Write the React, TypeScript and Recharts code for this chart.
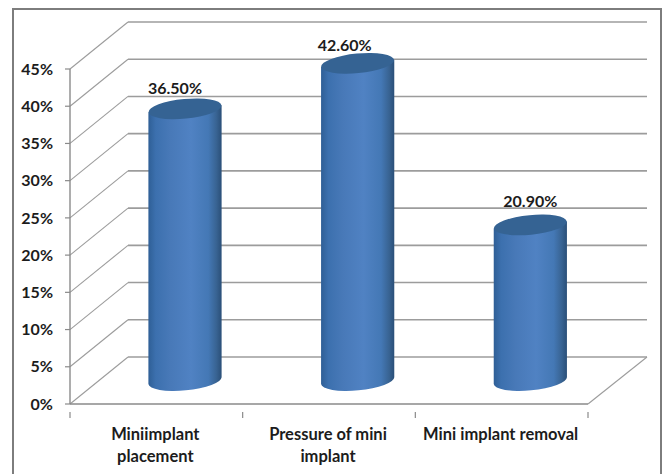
import React from "react";
import { BarChart, Bar, XAxis, YAxis, CartesianGrid, LabelList } from "recharts";

// Survey shares by procedure stage, in percent.
const categories = ["Miniimplant placement", "Pressure of mini implant", "Mini implant removal"];
const shares = [36.5, 42.6, 20.9];
const percentTicks = [0, 5, 10, 15, 20, 25, 30, 35, 40, 45];
const tickLines = [["Miniimplant", "placement"], ["Pressure of mini", "implant"], ["Mini implant removal"]];

const rows = categories.map((name, i) => ({ name, share: shares[i] }));

// Depth of the pseudo-3D box, in pixels, and the tilt of the cylinder ellipses.
const DEPTH_X = 58;
const DEPTH_Y = 47;
const RX = 36.6;
const RY = 9.8;
const TILT_DEG = -5.5;
const TILT_DY = 3.5;

const FONT = "Lato, 'Open Sans', sans-serif";
const INK = "#1c1c1c";
const AXIS = "#8a8a8a";
const GRID = "#9c9c9c";

function wallLine(props: any) {
  const { x1, x2, y1, y2 } = props;
  const backY = y1 - DEPTH_Y;
  const atFloor = Math.abs(y1 - 404) < 1;
  return (
    <g key={`wall-${y1}`}>
      <line x1={x1} y1={y1} x2={x1 + DEPTH_X} y2={backY} stroke={GRID} strokeWidth={1.1} />
      <line x1={x1 + DEPTH_X} y1={backY} x2={x2 + DEPTH_X + 1} y2={backY} stroke={GRID} strokeWidth={1.6} />
      {atFloor && (
        <line x1={x2} y1={y2} x2={x2 + DEPTH_X + 1} y2={backY} stroke={GRID} strokeWidth={1.1} />
      )}
    </g>
  );
}

function Cylinder(props: any) {
  const { x, y, width, height } = props;
  const cx = x + width / 2 + DEPTH_X / 2;
  const top = y - DEPTH_Y / 2;
  const base = y + height - DEPTH_Y / 2;
  const l = cx - RX;
  const r = cx + RX;
  const body =
    `M${l},${top + TILT_DY} L${l},${base + TILT_DY} ` +
    `A${RX},${RY} ${TILT_DEG} 0 0 ${r},${base - TILT_DY} L${r},${top - TILT_DY} Z`;
  return (
    <g>
      <path d={body} fill="url(#cylinderSide)" />
      <ellipse
        cx={cx}
        cy={top}
        rx={RX}
        ry={RY}
        transform={`rotate(${TILT_DEG} ${cx} ${top})`}
        fill="#356393"
      />
    </g>
  );
}

// Value labels sit slightly off the cylinder axis, each by its own amount.
const labelNudge = [
  { dx: -10, dy: -21 },
  { dx: -13, dy: -19 },
  { dx: 0, dy: -24 },
];

function ValueLabel(props: any) {
  const { x, y, width, value, index } = props;
  const n = labelNudge[index];
  return (
    <text
      x={x + width / 2 + DEPTH_X / 2 + n.dx}
      y={y - DEPTH_Y / 2 + n.dy}
      textAnchor="middle"
      dominantBaseline="central"
      fontFamily={FONT}
      fontWeight={700}
      fontSize={16}
      fill={INK}
    >
      {`${Number(value).toFixed(2)}%`}
    </text>
  );
}

function CategoryTick(props: any) {
  const { x, y, index, width, visibleTicksCount } = props;
  const band = width / visibleTicksCount;
  const left = x - band / 2;
  const lines = tickLines[index];
  return (
    <g>
      <line x1={left} y1={y} x2={left} y2={y + 6} stroke={AXIS} strokeWidth={1.2} />
      {index === visibleTicksCount - 1 && (
        <line x1={x + band / 2} y1={y} x2={x + band / 2} y2={y + 6} stroke={AXIS} strokeWidth={1.2} />
      )}
      {lines.map((t, i) => (
        <text
          key={t}
          x={x - 1}
          y={y + 22 + i * 22}
          textAnchor="middle"
          dominantBaseline="central"
          fontFamily={FONT}
          fontWeight={700}
          fontSize={16.5}
          fill={INK}
        >
          {t}
        </text>
      ))}
    </g>
  );
}

export default function App() {
  return (
    <div style={{ position: "absolute", left: 0, top: 0, width: 665, height: 474, overflow: "hidden", background: "#fff" }}>
      <div
        style={{
          position: "absolute",
          left: 12,
          top: 8,
          width: 646,
          height: 480,
          border: "2px solid #7d7d7d",
        }}
      />
      <div style={{ position: "absolute", left: 0, top: 0 }}>
        <BarChart
          width={665}
          height={474}
          data={rows}
          margin={{ top: 69, right: 77, bottom: 40, left: 10 }}
          barSize={72}
        >
          <defs>
            <linearGradient id="cylinderSide" x1="0" y1="0" x2="1" y2="0">
              <stop offset="0%" stopColor="#2f5f96" />
              <stop offset="10%" stopColor="#3c70ae" />
              <stop offset="30%" stopColor="#4879b8" />
              <stop offset="58%" stopColor="#5082c3" />
              <stop offset="82%" stopColor="#4478b5" />
              <stop offset="93%" stopColor="#386392" />
              <stop offset="100%" stopColor="#2a4f78" />
            </linearGradient>
          </defs>
          <CartesianGrid vertical={false} horizontal={wallLine} />
          <XAxis
            dataKey="name"
            height={30}
            tick={CategoryTick}
            tickLine={false}
            interval={0}
            axisLine={{ stroke: AXIS, strokeWidth: 1.4 }}
          />
          <YAxis
            width={60}
            domain={[0, 45]}
            ticks={percentTicks}
            interval={0}
            tickFormatter={(v: number) => `${v}%`}
            tickSize={5}
            tickMargin={12}
            axisLine={{ stroke: AXIS, strokeWidth: 1.4 }}
            tickLine={{ stroke: AXIS, strokeWidth: 1.2 }}
            tick={{ fontFamily: FONT, fontWeight: 700, fontSize: 16, fill: INK }}
          />
          <Bar dataKey="share" isAnimationActive={false} shape={Cylinder}>
            <LabelList dataKey="share" content={ValueLabel} />
          </Bar>
        </BarChart>
      </div>
    </div>
  );
}
